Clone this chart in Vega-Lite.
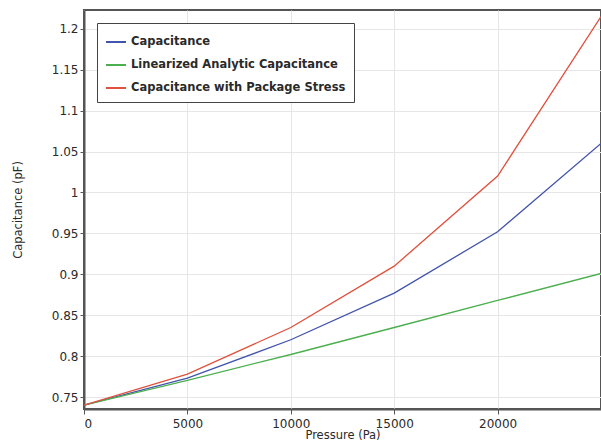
{
  "$schema": "https://vega.github.io/schema/vega-lite/v6.json",
  "width": 517,
  "height": 399,
  "autosize": {"type": "none"},
  "padding": {"left": 84, "top": 10, "right": 0, "bottom": 34},
  "background": "white",
  "config": {
    "view": {"stroke": "#555555", "strokeWidth": 2},
    "font": "DejaVu Sans",
    "axis": {
      "labelFont": "DejaVu Sans",
      "labelFontSize": 12,
      "labelColor": "#2a2a2a",
      "titleFont": "DejaVu Sans",
      "titleFontSize": 11.5,
      "titleFontWeight": "normal",
      "titleColor": "#2a2a2a",
      "gridColor": "#e6e6e6",
      "gridWidth": 1,
      "domainColor": "#555555",
      "domainWidth": 2,
      "tickColor": "#555555"
    }
  },
  "data": {
    "values": [
      {"p": 0, "c": 0.74, "s": "Capacitance"},
      {"p": 5000, "c": 0.773, "s": "Capacitance"},
      {"p": 10000, "c": 0.82, "s": "Capacitance"},
      {"p": 15000, "c": 0.877, "s": "Capacitance"},
      {"p": 20000, "c": 0.952, "s": "Capacitance"},
      {"p": 25000, "c": 1.06, "s": "Capacitance"},
      {"p": 0, "c": 0.74, "s": "Linearized Analytic Capacitance"},
      {"p": 5000, "c": 0.7705, "s": "Linearized Analytic Capacitance"},
      {"p": 10000, "c": 0.802, "s": "Linearized Analytic Capacitance"},
      {"p": 15000, "c": 0.835, "s": "Linearized Analytic Capacitance"},
      {"p": 20000, "c": 0.868, "s": "Linearized Analytic Capacitance"},
      {"p": 25000, "c": 0.901, "s": "Linearized Analytic Capacitance"},
      {"p": 0, "c": 0.74, "s": "Capacitance with Package Stress"},
      {"p": 5000, "c": 0.778, "s": "Capacitance with Package Stress"},
      {"p": 10000, "c": 0.835, "s": "Capacitance with Package Stress"},
      {"p": 15000, "c": 0.91, "s": "Capacitance with Package Stress"},
      {"p": 20000, "c": 1.02, "s": "Capacitance with Package Stress"},
      {"p": 25000, "c": 1.215, "s": "Capacitance with Package Stress"}
    ]
  },
  "mark": {"type": "line", "strokeWidth": 1.3, "clip": true},
  "encoding": {
    "x": {
      "field": "p", "type": "quantitative",
      "scale": {"domain": [0, 25000], "nice": false},
      "axis": {"values": [0, 5000, 10000, 15000, 20000], "format": "d", "title": "Pressure (Pa)", "titlePadding": 0, "labelPadding": 4, "tickSize": 5, "offset": 0}
    },
    "y": {
      "field": "c", "type": "quantitative",
      "scale": {"domain": [0.7354, 1.223], "nice": false, "zero": false},
      "axis": {"values": [0.75, 0.8, 0.85, 0.9, 0.95, 1, 1.05, 1.1, 1.15, 1.2], "format": "~g", "title": "Capacitance (pF)", "titlePadding": 28, "tickSize": 4}
    },
    "color": {
      "field": "s", "type": "nominal",
      "scale": {
        "domain": ["Capacitance", "Linearized Analytic Capacitance", "Capacitance with Package Stress"],
        "range": ["#4254ac", "#4caf50", "#e0503c"]
      },
      "legend": {
        "title": null,
        "orient": "none",
        "legendX": 13,
        "legendY": 13,
        "symbolType": "stroke",
        "symbolSize": 400,
        "symbolStrokeWidth": 2,
        "labelFont": "DejaVu Sans",
        "labelFontSize": 11.5,
        "labelFontWeight": "bold",
        "labelColor": "#2a2a2a",
        "strokeColor": "#444444",
        "fillColor": "white",
        "padding": 8,
        "rowPadding": 6,
        "labelLimit": 300
      }
    }
  }
}
